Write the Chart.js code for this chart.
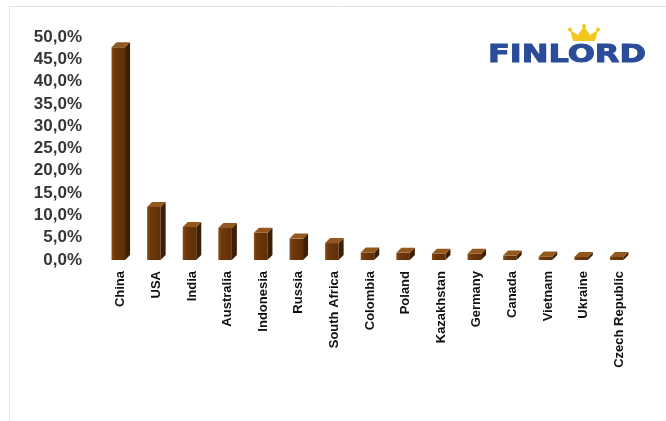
<!DOCTYPE html>
<html>
<head>
<meta charset="utf-8">
<script src="https://cdn.jsdelivr.net/npm/chart.js@4.4.1/dist/chart.umd.min.js"></script>
<style>
  html, body { margin: 0; padding: 0; background: #ffffff; }
  #wrap { position: relative; width: 666px; height: 421px; }
  canvas { display: block; }
</style>
</head>
<body>
<div id="wrap"><canvas id="c" width="666" height="421"></canvas></div>
<script>
// Share of world production by country, %
const countries = ['China', 'USA', 'India', 'Australia', 'Indonesia', 'Russia', 'South Africa',
  'Colombia', 'Poland', 'Kazakhstan', 'Germany', 'Canada', 'Vietnam', 'Ukraine', 'Czech Republic'];
const shares = [47.7, 11.9, 7.4, 7.2, 6.1, 4.8, 3.8, 1.7, 1.6, 1.4, 1.4, 1.0, 0.8, 0.7, 0.7];
const yTicks = [0, 5, 10, 15, 20, 25, 30, 35, 40, 45, 50];

const fmtPct = v => v.toFixed(1).replace('.', ',') + '%';

// Extruded-column look: front face, darker right side, lighter top
const bars3d = {
  id: 'bars3d',
  afterDatasetsDraw(chart) {
    const ctx = chart.ctx;
    const meta = chart.getDatasetMeta(0);
    const d = 5;
    ctx.save();
    meta.data.forEach(el => {
      const { x, y, base, width } = el.getProps(['x', 'y', 'base', 'width'], true);
      const l = x - width / 2, r = x + width / 2 - d;
      // front
      const g = ctx.createLinearGradient(l, 0, r, 0);
      g.addColorStop(0, '#8a4d17');
      g.addColorStop(0.25, '#6e380c');
      g.addColorStop(1, '#5e2f08');
      ctx.fillStyle = g;
      ctx.fillRect(l, y, r - l, base - y);
      // side
      ctx.fillStyle = '#3f1f04';
      ctx.beginPath();
      ctx.moveTo(r, y); ctx.lineTo(r + d, y - d); ctx.lineTo(r + d, base - d); ctx.lineTo(r, base);
      ctx.closePath(); ctx.fill();
      // top
      ctx.fillStyle = '#94581f';
      ctx.beginPath();
      ctx.moveTo(l, y); ctx.lineTo(l + d, y - d); ctx.lineTo(r + d, y - d); ctx.lineTo(r, y);
      ctx.closePath(); ctx.fill();
    });
    ctx.restore();
  }
};

// Category names read bottom-to-top under each column
const vLabels = {
  id: 'vLabels',
  afterDraw(chart) {
    const ctx = chart.ctx;
    const xs = chart.scales.x;
    const top = chart.scales.y.getPixelForValue(0) + 11;
    ctx.save();
    ctx.font = 'bold 13px "Liberation Sans", Arial, sans-serif';
    ctx.fillStyle = '#111111';
    ctx.textAlign = 'right';
    ctx.textBaseline = 'middle';
    countries.forEach((name, i) => {
      const px = xs.getPixelForValue(i);
      ctx.save();
      ctx.translate(px, top);
      ctx.rotate(-Math.PI / 2);
      ctx.fillText(name, 0, 0);
      ctx.restore();
    });
    ctx.restore();
  }
};

// Frame and brand mark
const decor = {
  id: 'decor',
  afterDraw(chart) {
    const ctx = chart.ctx;
    ctx.save();
    ctx.strokeStyle = '#e4e4e4';
    ctx.lineWidth = 1;
    ctx.beginPath();
    ctx.moveTo(9.5, 421); ctx.lineTo(9.5, 6.5); ctx.lineTo(666, 6.5);
    ctx.stroke();

    // wordmark
    ctx.font = 'bold 25px "DejaVu Sans", sans-serif';
    ctx.textBaseline = 'alphabetic';
    ctx.textAlign = 'left';
    const word = 'FINLORD';
    const w = ctx.measureText(word).width;
    const sx = 158 / w;
    ctx.save();
    ctx.translate(488, 62);
    ctx.scale(sx, 1);
    ctx.fillStyle = '#2a4c99';
    ctx.strokeStyle = '#2a4c99';
    ctx.lineWidth = 1;
    ctx.fillText(word, 0, 0);
    ctx.strokeText(word, 0, 0);
    ctx.restore();

    // crown
    ctx.fillStyle = '#f3c71c';
    ctx.beginPath();
    ctx.moveTo(573, 41);
    ctx.lineTo(570, 30);
    ctx.lineTo(578, 35);
    ctx.lineTo(584, 26);
    ctx.lineTo(590, 35);
    ctx.lineTo(598, 30);
    ctx.lineTo(595, 41);
    ctx.closePath();
    ctx.fill();
    [[570, 29.5], [584, 26], [598, 29.5]].forEach(([cx, cy]) => {
      ctx.beginPath(); ctx.arc(cx, cy, 2, 0, Math.PI * 2); ctx.fill();
    });
    ctx.restore();
  }
};

new Chart(document.getElementById('c'), {
  type: 'bar',
  data: {
    labels: countries,
    datasets: [{
      data: shares,
      backgroundColor: 'rgba(0,0,0,0)',
      borderWidth: 0,
      barPercentage: 0.52,
      categoryPercentage: 1
    }]
  },
  options: {
    responsive: false,
    animation: false,
    events: [],
    layout: { padding: { left: 0, right: 29, top: 37, bottom: 0 } },
    plugins: { legend: { display: false }, tooltip: { enabled: false } },
    scales: {
      x: {
        grid: { display: false },
        border: { display: false },
        ticks: { display: false },
        afterFit(scale) { scale.height = 161; }
      },
      y: {
        min: 0,
        max: 50,
        afterBuildTicks(scale) { scale.ticks = yTicks.map(v => ({ value: v })); },
        grid: { display: false },
        border: { display: false },
        ticks: {
          autoSkip: false,
          padding: 13,
          color: '#363636',
          font: { family: '"Liberation Sans", Arial, sans-serif', size: 17, weight: 'bold' },
          callback: v => fmtPct(v)
        },
        afterFit(scale) { scale.width = 103; }
      }
    }
  },
  plugins: [bars3d, vLabels, decor]
});
</script>
</body>
</html>
